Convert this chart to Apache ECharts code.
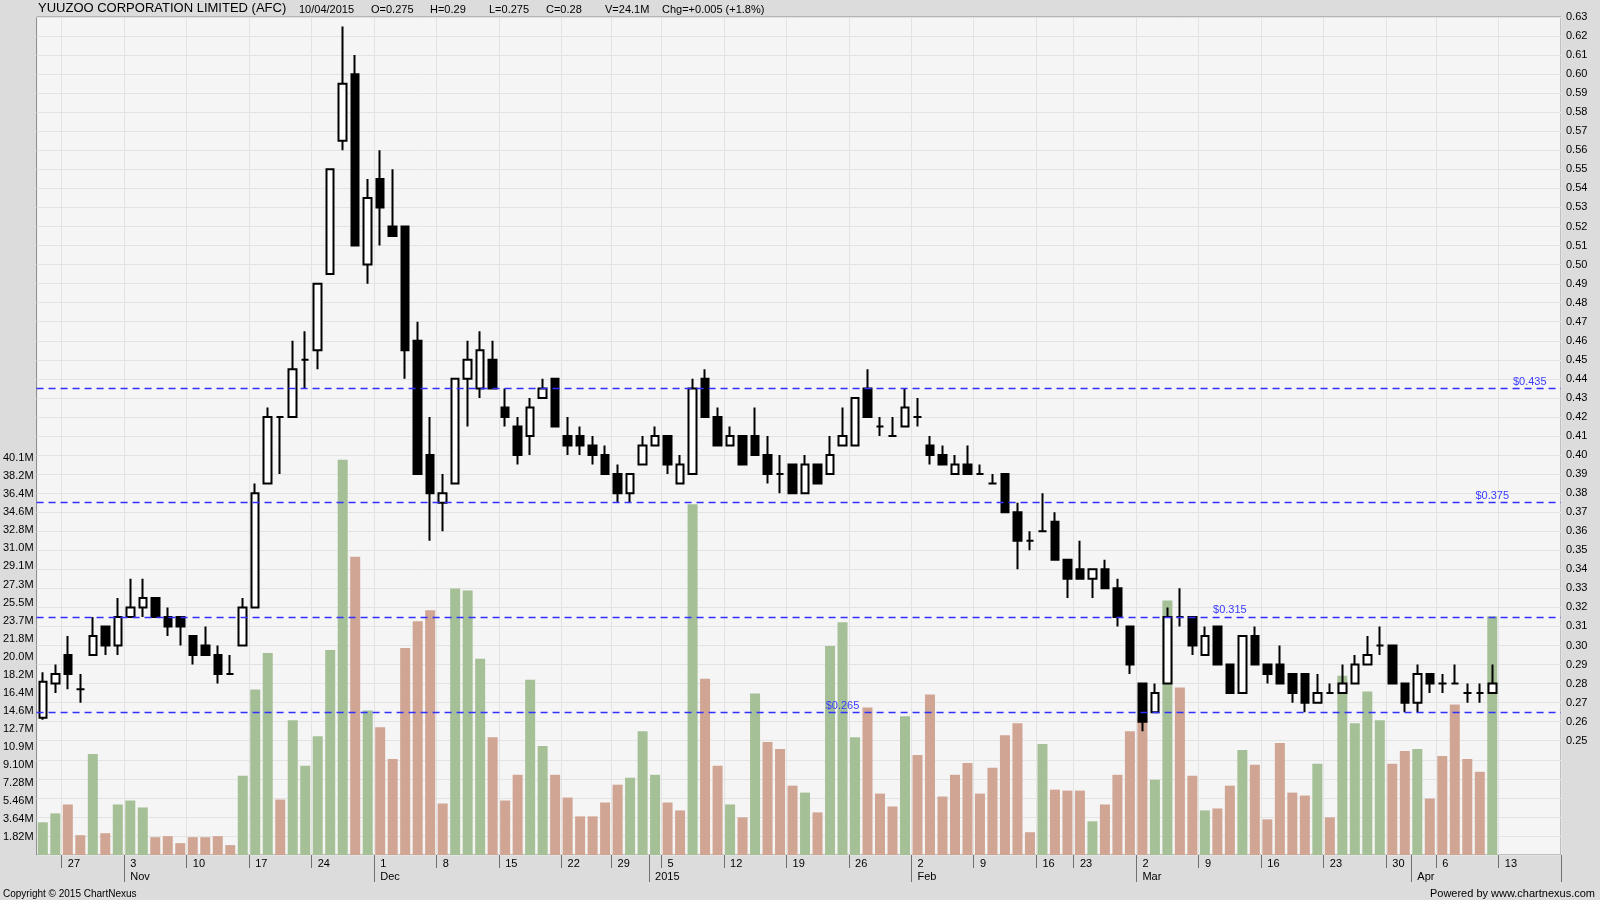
<!DOCTYPE html>
<html><head><meta charset="utf-8">
<script src="https://cdn.jsdelivr.net/npm/echarts@6/dist/echarts.min.js"></script>
<style>html,body{margin:0;padding:0;background:#dcdcdc;}#c{width:1600px;height:900px;}</style>
</head><body><div id="c"></div>
<script>
// trading calendar
const startDate = '2014-10-23';
const holidays = ['2014-12-25','2015-01-01','2015-02-19','2015-02-20','2015-04-03'];
const totalSlots = 122;
const opens  = [.262,.280,.295,.277,.295,.310,.300,.315,.320,.325,.315,.315,.305,.300,.295,.285,.300,.320,.385,.420,
.420,.450,.455,.495,.565,.600,.500,.545,.520,.520,.460,.400,.375,.385,.440,.435,.450,.425,.415,.410,
.430,.440,.410,.410,.405,.400,.390,.380,.395,.405,.410,.385,.390,.440,.420,.405,.410,.410,.400,.390,
.395,.380,.395,.390,.405,.405,.435,.415,.410,.415,.420,.405,.400,.390,.395,.390,.385,.390,.370,.355,
.360,.365,.345,.340,.335,.340,.330,.310,.280,.265,.280,.315,.315,.295,.310,.290,.275,.305,.290,.290,
.285,.285,.270,.275,.275,.280,.290,.300,.300,.280,.270,.285,.280,.280,.275,.275,.275];
const closes = [.281,.285,.285,.277,.305,.300,.315,.320,.325,.315,.310,.310,.295,.295,.285,.285,.320,.380,.420,.420,
.445,.450,.490,.550,.595,.510,.535,.530,.515,.455,.390,.380,.380,.440,.450,.455,.435,.420,.400,.425,
.435,.415,.405,.405,.400,.390,.380,.390,.405,.410,.395,.395,.435,.420,.405,.410,.395,.400,.390,.390,
.380,.395,.385,.400,.410,.430,.420,.415,.410,.425,.420,.400,.395,.395,.390,.390,.385,.370,.355,.355,
.360,.345,.335,.335,.340,.330,.315,.290,.260,.275,.315,.315,.300,.305,.290,.275,.305,.290,.285,.280,
.275,.270,.275,.275,.280,.290,.295,.300,.280,.270,.285,.280,.280,.280,.275,.275,.280];
const lows   = [.261,.275,.277,.270,.295,.295,.295,.315,.315,.315,.305,.300,.290,.295,.280,.285,.300,.320,.385,.390,
.420,.435,.445,.495,.560,.510,.490,.510,.515,.440,.390,.355,.360,.385,.415,.430,.435,.415,.395,.400,
.430,.415,.400,.400,.395,.390,.375,.375,.395,.405,.390,.385,.390,.420,.405,.405,.395,.400,.385,.380,
.380,.380,.385,.390,.405,.405,.420,.410,.410,.415,.415,.395,.395,.390,.390,.390,.385,.370,.340,.350,
.360,.345,.325,.335,.325,.330,.310,.285,.255,.265,.280,.310,.295,.295,.290,.275,.275,.290,.280,.280,
.270,.265,.270,.275,.275,.280,.290,.295,.280,.265,.265,.275,.275,.280,.270,.270,.275];
const highs  = [.286,.290,.305,.285,.315,.310,.325,.335,.335,.325,.320,.315,.305,.310,.300,.295,.325,.385,.425,.420,
.460,.465,.490,.550,.625,.610,.545,.560,.550,.520,.470,.420,.390,.440,.460,.465,.460,.435,.420,.430,
.440,.440,.420,.415,.410,.405,.395,.390,.410,.415,.410,.400,.440,.445,.425,.415,.410,.425,.410,.400,
.395,.400,.395,.410,.425,.430,.445,.420,.420,.435,.430,.410,.405,.400,.405,.395,.390,.390,.375,.360,
.380,.370,.345,.355,.340,.345,.335,.310,.280,.280,.320,.330,.315,.310,.310,.290,.305,.310,.290,.300,
.285,.285,.285,.280,.290,.295,.305,.310,.300,.280,.290,.285,.285,.290,.280,.280,.290];
const volumesM = [3.3,4.2,5.1,2.0,10.2,2.2,5.1,5.5,4.8,1.8,1.9,1.2,1.8,1.8,1.9,1.0,8.0,16.7,20.4,5.6,
13.6,9.0,12.0,20.7,39.9,30.1,14.6,12.9,9.7,20.9,23.6,24.7,5.2,26.9,26.7,19.8,11.9,5.5,8.1,17.7,
11.0,8.1,5.8,3.9,3.9,5.3,7.1,7.8,12.5,8.1,5.3,4.5,35.4,17.8,9.0,5.1,3.8,16.3,11.4,10.7,
7.0,6.3,4.3,21.1,23.5,11.9,14.9,6.2,4.9,14.0,10.1,16.2,5.9,8.1,9.3,6.2,8.8,12.1,13.3,2.3,
11.2,6.6,6.5,6.5,3.4,5.1,8.1,12.5,13.9,7.6,25.7,16.9,8.0,4.5,4.7,7.0,10.6,9.1,3.6,11.3,
6.3,6.0,9.2,3.8,18.1,13.3,16.5,13.6,9.2,10.5,10.7,5.7,10.0,15.2,9.7,8.4,24.1];
const refLevels = [0.435, 0.375, 0.315, 0.265];
const priceTicks = {min:0.19, max:0.63, step:0.01, firstLabel:0.25};
const volTicks = {max:84.6, step:1.8207, lastLabel:40.2};
const monthNames = ['Jan','Feb','Mar','Apr','May','Jun','Jul','Aug','Sep','Oct','Nov','Dec'];

// build categories
const dates = [];
{
  let d = new Date(startDate + 'T00:00:00Z');
  while (dates.length < totalSlots) {
    const s = d.toISOString().slice(0,10);
    const wd = d.getUTCDay();
    if (wd !== 0 && wd !== 6 && holidays.indexOf(s) < 0) dates.push(s);
    d = new Date(d.getTime() + 86400000);
  }
}
const isMonday = i => new Date(dates[i]+'T00:00:00Z').getUTCDay() === 1;
const isMonthStart = i => i > 0 && dates[i].slice(5,7) !== dates[i-1].slice(5,7);
const showLabel = i => isMonday(i) || isMonthStart(i);

const candleData = opens.map((o,i)=>[o, closes[i], lows[i], highs[i]]);
const GREEN='#a5c096', BROWN='#d1a594';
const volData = volumesM.map((v,i)=>({value:v, itemStyle:{color:(i===0 || closes[i]>closes[i-1])?GREEN:BROWN}}));

const refLabelIdx = [119, 116, 95, 64];

const chart = echarts.init(document.getElementById('c'));
chart.setOption({
  backgroundColor:'#dcdcdc',
  animation:false,
  textStyle:{fontFamily:'Liberation Sans, Arial, sans-serif'},
  graphic:[
    {type:'text', left:38, top:2, style:{text:'YUUZOO CORPORATION LIMITED (AFC)', font:'13px Liberation Sans', fill:'#000'}},
    {type:'text', left:299, top:4, style:{text:'10/04/2015', font:'11px Liberation Sans', fill:'#000'}},
    {type:'text', left:371, top:4, style:{text:'O=0.275', font:'11px Liberation Sans', fill:'#000'}},
    {type:'text', left:430, top:4, style:{text:'H=0.29', font:'11px Liberation Sans', fill:'#000'}},
    {type:'text', left:489, top:4, style:{text:'L=0.275', font:'11px Liberation Sans', fill:'#000'}},
    {type:'text', left:546, top:4, style:{text:'C=0.28', font:'11px Liberation Sans', fill:'#000'}},
    {type:'text', left:605, top:4, style:{text:'V=24.1M', font:'11px Liberation Sans', fill:'#000'}},
    {type:'text', left:662, top:4, style:{text:'Chg=+0.005 (+1.8%)', font:'11px Liberation Sans', fill:'#000'}},
    {type:'text', left:3, top:889, style:{text:'Copyright © 2015 ChartNexus', font:'10px Liberation Sans', fill:'#000'}},
    {type:'text', right:5, top:888, style:{text:'Powered by www.chartnexus.com', font:'11px Liberation Sans', fill:'#000'}}
  ],
  grid:{left:36, right:39, top:17, bottom:45, show:true, backgroundColor:'#f5f5f5', borderColor:'#8a8a8a', borderWidth:1},
  xAxis:[{
    type:'category', data:dates, boundaryGap:true,
    axisLine:{show:false},
    axisTick:{show:true, interval:(i)=>showLabel(i) && isMonday(i), length:13, lineStyle:{color:'#707070'}},
    splitLine:{show:true, interval:(i)=>isMonday(i), lineStyle:{color:'#e3e3e3', width:1}},
    axisLabel:{show:true, interval:(i)=>showLabel(i), align:'left', margin:2, color:'#000', fontSize:11, lineHeight:13,
      formatter:(v,i)=>{
        const d=new Date(v+'T00:00:00Z'); const mon=isMonday(i), ms=isMonthStart(i);
        const m = d.getUTCMonth()===0 ? String(d.getUTCFullYear()) : monthNames[d.getUTCMonth()];
        if (mon && ms) return d.getUTCDate()+'\n'+m;
        if (mon) return String(d.getUTCDate());
        return '\n'+m;
      }}
  },{
    type:'category', data:dates, boundaryGap:true, position:'bottom', gridIndex:0,
    axisLine:{show:false}, axisLabel:{show:false}, splitLine:{show:false},
    axisTick:{show:true, interval:(i)=>isMonthStart(i), length:27, lineStyle:{color:'#707070'}}
  }],
  yAxis:[{
    type:'value', position:'right', min:priceTicks.min, max:priceTicks.max, interval:priceTicks.step,
    axisLine:{show:false}, axisTick:{show:false},
    splitLine:{show:true, lineStyle:{color:'#e3e3e3', width:1}},
    axisLabel:{color:'#000', fontSize:11, margin:5,
      formatter:v=> v>=priceTicks.firstLabel-1e-9 ? v.toFixed(2) : ''}
  },{
    type:'value', position:'left', min:0, max:volTicks.max, interval:volTicks.step,
    axisLine:{show:false}, axisTick:{show:false}, splitLine:{show:false},
    axisLabel:{color:'#000', fontSize:11, margin:3,
      formatter:v=> (v>0.1 && v<volTicks.lastLabel) ? v.toPrecision(3)+'M' : ''}
  }],
  series:[{
    type:'bar', name:'Volume', xAxisIndex:0, yAxisIndex:1, data:volData, barWidth:10, z:1
  },{
    type:'candlestick', name:'AFC', xAxisIndex:0, yAxisIndex:0, data:candleData, barWidth:8, z:3,
    itemStyle:{color:'#ffffff', color0:'#000000', borderColor:'#000000', borderColor0:'#000000', borderWidth:2},
    markLine:{symbol:['none','none'], silent:true, precision:3, label:{show:false},
      lineStyle:{color:'#3030ff', type:[7,5], width:1.3, opacity:1},
      emphasis:{disabled:true},
      data: refLevels.map(v=>({yAxis:v, lineStyle:{color:'#3030ff'}}))},
    markPoint:{symbol:'circle', symbolSize:0, silent:true,
      label:{show:true, position:'top', distance:1, color:'#3a3aff', fontSize:11},
      data: refLevels.map((v,k)=>({coord:[refLabelIdx[k], v], value:v, label:{formatter:'$'+v.toFixed(3)}}))}
  }]
});
</script></body></html>
